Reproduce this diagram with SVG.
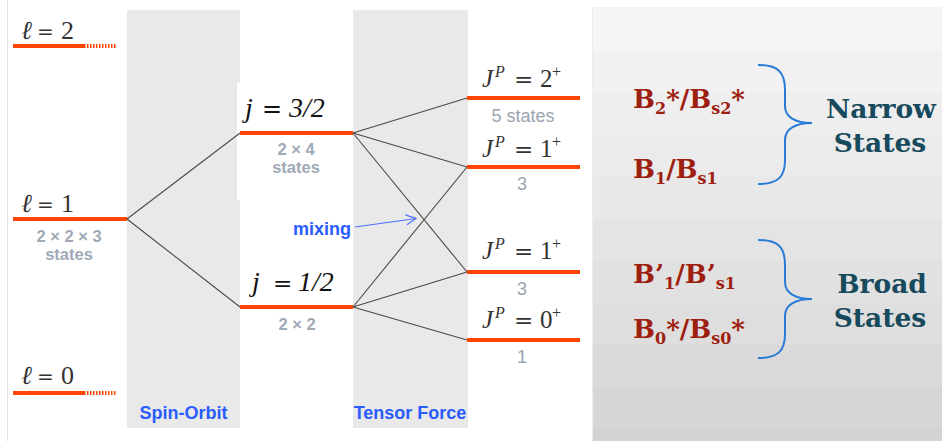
<svg xmlns="http://www.w3.org/2000/svg" width="942" height="441" viewBox="0 0 942 441">
<defs>
<style>
.col{fill:#e9e9e9}
.lvl{stroke:#ff4500;stroke-width:4;fill:none}
.dot{stroke:#ff4500;stroke-width:4;stroke-dasharray:1.5 1.5;fill:none}
.con{stroke:#4a4a4a;stroke-width:1.1;fill:none}
.ell{font-family:"Liberation Serif","DejaVu Serif",serif;font-size:26px;fill:#333}
.eq{font-family:"DejaVu Serif",serif;font-style:normal}
.jl{font-family:"Liberation Serif",serif;font-style:italic;font-size:28px;fill:#111}
.jp{font-family:"Liberation Serif",serif;font-size:25px;fill:#333}
.gs{font-family:"Liberation Sans",Arial,sans-serif;font-weight:bold;font-size:16.5px;fill:#a0aab6;text-anchor:middle}
.gr{font-family:"Liberation Sans",Arial,sans-serif;font-size:18px;fill:#9aa4b0;text-anchor:middle}
.blu{font-family:"Liberation Sans",Arial,sans-serif;font-weight:bold;font-size:18px;fill:#2a5cff}
.bn{font-family:"DejaVu Serif","Liberation Serif",serif;font-weight:bold;font-size:26px;fill:#9e1e10}
.sub{font-size:16px}
.st{font-family:"DejaVu Serif","Liberation Serif",serif;font-weight:bold;font-size:26.5px;fill:#164a5c;text-anchor:middle}
.brace{stroke:#2a7ad8;stroke-width:2;fill:none}
</style>
<marker id="ah" markerWidth="12" markerHeight="12" refX="11" refY="6" orient="auto" markerUnits="userSpaceOnUse">
<path d="M1,1 L11,6 L1,11" fill="none" stroke="#4f6fff" stroke-width="1.2"/>
</marker>
</defs>
<rect width="942" height="441" fill="#fff"/>
<line x1="7.5" y1="0" x2="7.5" y2="441" stroke="#e2e2e2" stroke-width="1"/>
<g id="panel">
<rect x="592" y="7" width="350" height="44" fill="#f5f5f5"/>
<rect x="592" y="51" width="350" height="42" fill="#f1f1f1"/>
<rect x="592" y="93" width="350" height="42" fill="#eeeeee"/>
<rect x="592" y="135" width="350" height="42" fill="#ebebeb"/>
<rect x="592" y="177" width="350" height="42" fill="#e8e8e8"/>
<rect x="592" y="219" width="350" height="42" fill="#e4e4e4"/>
<rect x="592" y="261" width="350" height="42" fill="#e1e1e1"/>
<rect x="592" y="303" width="350" height="42" fill="#dedede"/>
<rect x="592" y="345" width="350" height="42" fill="#dadada"/>
<rect x="592" y="387" width="350" height="42" fill="#d6d6d6"/>
<rect x="592" y="429" width="350" height="12" fill="#d3d3d3"/>
<line x1="592.5" y1="7" x2="592.5" y2="441" stroke="#ececec" stroke-width="1"/>
</g>
<g id="spin-orbit">
<rect class="col" x="127" y="10" width="113" height="418"/>
<rect x="237" y="83" width="3" height="117" fill="#fff"/>
<text class="blu" x="183.5" y="419" text-anchor="middle">Spin-Orbit</text>
</g>
<g id="tensor-force">
<rect class="col" x="353" y="10" width="115" height="418"/>
<text class="blu" x="410" y="419" text-anchor="middle">Tensor Force</text>
</g>
<g id="connectors">
<line class="con" x1="127" y1="219" x2="240" y2="133"/>
<line class="con" x1="127" y1="219" x2="240" y2="307"/>
<line class="con" x1="353" y1="133" x2="467" y2="98"/>
<line class="con" x1="353" y1="133" x2="467" y2="167"/>
<line class="con" x1="353" y1="133" x2="467" y2="272"/>
<line class="con" x1="353" y1="307" x2="467" y2="167"/>
<line class="con" x1="353" y1="307" x2="467" y2="272"/>
<line class="con" x1="353" y1="307" x2="467" y2="340"/>
<line x1="355" y1="227" x2="416" y2="218.5" stroke="#4f6fff" stroke-width="1.2" marker-end="url(#ah)"/>
</g>
<g id="mixing">
<text class="blu" x="293" y="235" font-size="19">mixing</text>
</g>
<g id="l2">
<line class="lvl" x1="13" y1="46" x2="84" y2="46"/>
<line class="dot" x1="84" y1="46" x2="116" y2="46"/>
<text class="ell" y="39"><tspan x="21" font-style="italic">ℓ</tspan><tspan x="37" class="eq" font-size="20">=</tspan><tspan x="61">2</tspan></text>
</g>
<g id="l1">
<line class="lvl" x1="13" y1="219" x2="127" y2="219"/>
<text class="ell" y="212"><tspan x="21" font-style="italic">ℓ</tspan><tspan x="37" class="eq" font-size="20">=</tspan><tspan x="61">1</tspan></text>
<text class="gs" x="69" y="242">2 × 2 × 3</text>
<text class="gs" x="69" y="260">states</text>
</g>
<g id="l0">
<line class="lvl" x1="13" y1="393" x2="84" y2="393"/>
<line class="dot" x1="84" y1="393" x2="116" y2="393"/>
<text class="ell" y="384"><tspan x="21" font-style="italic">ℓ</tspan><tspan x="37" class="eq" font-size="20">=</tspan><tspan x="61">0</tspan></text>
</g>
<g id="j32">
<line class="lvl" x1="240" y1="133" x2="353" y2="133"/>
<text class="jl" y="117"><tspan x="245">j</tspan><tspan x="262" class="eq" font-size="24">=</tspan><tspan x="289">3/2</tspan></text>
<text class="gs" x="296" y="155">2 × 4</text>
<text class="gs" x="296" y="173">states</text>
</g>
<g id="j12">
<line class="lvl" x1="240" y1="307" x2="353" y2="307"/>
<text class="jl" y="291"><tspan x="252">j</tspan><tspan x="273" class="eq" font-size="23">=</tspan><tspan x="298">1/2</tspan></text>
<text class="gs" x="297" y="330">2 × 2</text>
</g>
<g id="jp2">
<line class="lvl" x1="467" y1="98" x2="580" y2="98"/>
<text class="jp" y="87"><tspan x="482" font-style="italic">J</tspan><tspan x="495" dy="-10" font-size="16" font-style="italic">P</tspan><tspan x="514" dy="10" class="eq" font-size="23">=</tspan><tspan x="540">2</tspan><tspan x="552" dy="-10" font-size="16">+</tspan></text>
<text class="gr" x="523" y="122">5 states</text>
</g>
<g id="jp1a">
<line class="lvl" x1="467" y1="167" x2="580" y2="167"/>
<text class="jp" y="157"><tspan x="482" font-style="italic">J</tspan><tspan x="495" dy="-10" font-size="16" font-style="italic">P</tspan><tspan x="514" dy="10" class="eq" font-size="23">=</tspan><tspan x="540">1</tspan><tspan x="552" dy="-10" font-size="16">+</tspan></text>
<text class="gr" x="522" y="190">3</text>
</g>
<g id="jp1b">
<line class="lvl" x1="467" y1="272" x2="580" y2="272"/>
<text class="jp" y="259"><tspan x="482" font-style="italic">J</tspan><tspan x="495" dy="-10" font-size="16" font-style="italic">P</tspan><tspan x="514" dy="10" class="eq" font-size="23">=</tspan><tspan x="540">1</tspan><tspan x="552" dy="-10" font-size="16">+</tspan></text>
<text class="gr" x="522" y="295">3</text>
</g>
<g id="jp0">
<line class="lvl" x1="467" y1="340" x2="580" y2="340"/>
<text class="jp" y="328"><tspan x="482" font-style="italic">J</tspan><tspan x="495" dy="-10" font-size="16" font-style="italic">P</tspan><tspan x="514" dy="10" class="eq" font-size="23">=</tspan><tspan x="540">0</tspan><tspan x="552" dy="-10" font-size="16">+</tspan></text>
<text class="gr" x="522" y="363">1</text>
</g>
<g id="b2">
<text class="bn" x="633" y="108">B<tspan class="sub" dy="6">2</tspan><tspan dy="-6">*/B</tspan><tspan class="sub" dy="6">s2</tspan><tspan dy="-6">*</tspan></text>
</g>
<g id="b1">
<text class="bn" x="633" y="178">B<tspan class="sub" dy="6">1</tspan><tspan dy="-6">/B</tspan><tspan class="sub" dy="6">s1</tspan></text>
</g>
<g id="b1p">
<text class="bn" x="633" y="283">B’<tspan class="sub" dy="6">1</tspan><tspan dy="-6">/B’</tspan><tspan class="sub" dy="6">s1</tspan></text>
</g>
<g id="b0">
<text class="bn" x="633" y="338">B<tspan class="sub" dy="6">0</tspan><tspan dy="-6">*/B</tspan><tspan class="sub" dy="6">s0</tspan><tspan dy="-6">*</tspan></text>
</g>
<g id="narrow">
<path class="brace" d="M758,65 C778,65 785,72 785,90 L785,106 C785,117 795,123 812,123 C795,123 785,129 785,140 L785,160 C785,177 778,184 758,184"/>
<text class="st" x="881" y="118">Narrow</text>
<text class="st" x="880" y="152">States</text>
</g>
<g id="broad">
<path class="brace" d="M758,240 C778,240 785,247 785,265 L785,282 C785,293 795,299 812,299 C795,299 785,305 785,316 L785,334 C785,351 778,358 758,358"/>
<text class="st" x="882" y="293">Broad</text>
<text class="st" x="880" y="327">States</text>
</g>
</svg>
